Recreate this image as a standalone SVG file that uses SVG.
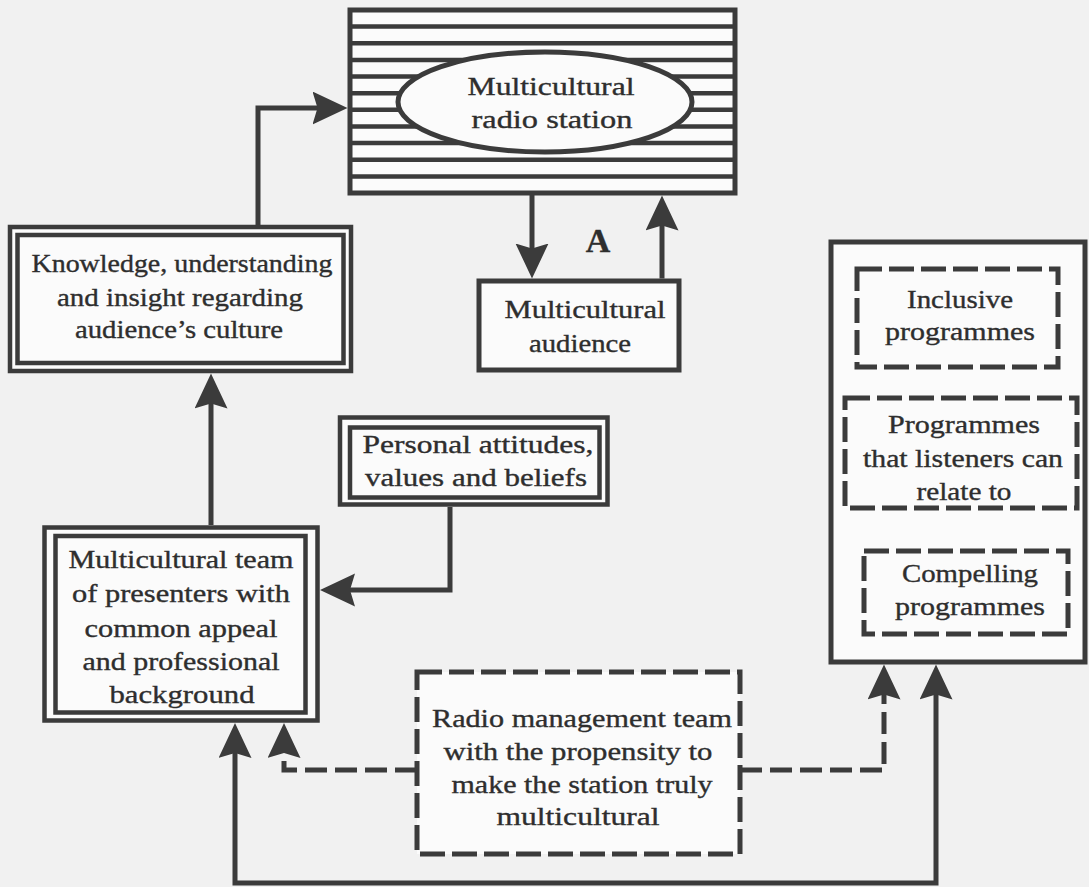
<svg xmlns="http://www.w3.org/2000/svg" width="1089" height="887" viewBox="0 0 1089 887">
<style>
.box{fill:#fbfbfb;stroke:#3b3b3b;stroke-width:5}
.dbl{fill:#fbfbfb;stroke:#3b3b3b;stroke-width:4.5}
.dash{fill:#fbfbfb;stroke:#3b3b3b;stroke-width:5;stroke-dasharray:25 7}
.stripe{stroke:#3b3b3b;stroke-width:4.5}
.ln{fill:none;stroke:#3b3b3b;stroke-width:5}
.dl{fill:none;stroke:#3b3b3b;stroke-width:5;stroke-dasharray:22 8}
text{font-family:"Liberation Serif","Times New Roman",serif;font-size:25px;fill:#2e2e2e;stroke:#2e2e2e;stroke-width:0.35;text-anchor:middle}
</style>
<defs>
<marker id="ah" markerUnits="userSpaceOnUse" viewBox="0 0 36 34" markerWidth="36" markerHeight="34" refX="20" refY="16.5" orient="auto-start-reverse">
<path d="M0,0 L35,16.5 L0,33 L5,16.5 Z" fill="#3b3b3b"/>
</marker>
</defs>
<rect width="1089" height="887" fill="#f1f1f1"/>

<g id="station">
<rect class="box" x="350" y="10" width="385" height="183"/>
<g class="stripe">
<line x1="350" y1="26.6" x2="735" y2="26.6"/>
<line x1="350" y1="43.3" x2="735" y2="43.3"/>
<line x1="350" y1="59.9" x2="735" y2="59.9"/>
<line x1="350" y1="76.6" x2="735" y2="76.6"/>
<line x1="350" y1="93.2" x2="735" y2="93.2"/>
<line x1="350" y1="109.8" x2="735" y2="109.8"/>
<line x1="350" y1="126.5" x2="735" y2="126.5"/>
<line x1="350" y1="143.1" x2="735" y2="143.1"/>
<line x1="350" y1="159.8" x2="735" y2="159.8"/>
<line x1="350" y1="176.4" x2="735" y2="176.4"/>
</g>
<ellipse class="box" cx="545" cy="102" rx="147" ry="50"/>
<text x="551" y="95" textLength="167" lengthAdjust="spacingAndGlyphs">Multicultural</text>
<text x="552" y="128" textLength="161" lengthAdjust="spacingAndGlyphs">radio station</text>
</g>

<g id="audience">
<rect class="box" x="479" y="281" width="200" height="89"/>
<text x="585" y="318" textLength="161" lengthAdjust="spacingAndGlyphs">Multicultural</text>
<text x="580" y="352" textLength="102" lengthAdjust="spacingAndGlyphs">audience</text>
</g>

<g id="label-a">
<text x="598" y="252" style="font-size:34px;font-weight:bold">A</text>
</g>

<g id="knowledge">
<rect class="dbl" x="10" y="227" width="341" height="144"/>
<rect class="dbl" x="17.5" y="235" width="326" height="128"/>
<text x="182" y="272" textLength="301" lengthAdjust="spacingAndGlyphs">Knowledge, understanding</text>
<text x="180" y="306" textLength="246" lengthAdjust="spacingAndGlyphs">and insight regarding</text>
<text x="179" y="338" textLength="208" lengthAdjust="spacingAndGlyphs">audience’s culture</text>
</g>

<g id="personal">
<rect class="dbl" x="340" y="417.5" width="267.5" height="87"/>
<rect class="dbl" x="350" y="427.5" width="249.5" height="70"/>
<text x="478" y="453" textLength="231" lengthAdjust="spacingAndGlyphs">Personal attitudes,</text>
<text x="476" y="486" textLength="222" lengthAdjust="spacingAndGlyphs">values and beliefs</text>
</g>

<g id="team">
<rect class="dbl" x="44.5" y="527.5" width="273" height="193"/>
<rect class="dbl" x="55.5" y="536" width="250" height="176.5"/>
<text x="181" y="568" textLength="225" lengthAdjust="spacingAndGlyphs">Multicultural team</text>
<text x="181" y="602" textLength="218" lengthAdjust="spacingAndGlyphs">of presenters with</text>
<text x="181" y="637" textLength="193" lengthAdjust="spacingAndGlyphs">common appeal</text>
<text x="181" y="670" textLength="197" lengthAdjust="spacingAndGlyphs">and professional</text>
<text x="182" y="703" textLength="145" lengthAdjust="spacingAndGlyphs">background</text>
</g>

<g id="management">
<rect class="dash" x="417" y="672" width="323" height="182"/>
<text x="582" y="727" textLength="300" lengthAdjust="spacingAndGlyphs">Radio management team</text>
<text x="578" y="760" textLength="269" lengthAdjust="spacingAndGlyphs">with the propensity to</text>
<text x="582" y="793" textLength="261" lengthAdjust="spacingAndGlyphs">make the station truly</text>
<text x="578" y="825" textLength="163" lengthAdjust="spacingAndGlyphs">multicultural</text>
</g>

<g id="programmes">
<rect class="box" x="831" y="242" width="254" height="420"/>
<g id="inclusive">
<rect class="dash" x="857" y="269" width="201" height="98"/>
<text x="960" y="308" textLength="106" lengthAdjust="spacingAndGlyphs">Inclusive</text>
<text x="960" y="340" textLength="150" lengthAdjust="spacingAndGlyphs">programmes</text>
</g>
<g id="relate">
<rect class="dash" x="845" y="398" width="232" height="110"/>
<text x="964" y="433" textLength="152" lengthAdjust="spacingAndGlyphs">Programmes</text>
<text x="963" y="467" textLength="200" lengthAdjust="spacingAndGlyphs">that listeners can</text>
<text x="964" y="500" textLength="95" lengthAdjust="spacingAndGlyphs">relate to</text>
</g>
<g id="compelling">
<rect class="dash" x="864" y="551" width="204" height="83"/>
<text x="970" y="582" textLength="136" lengthAdjust="spacingAndGlyphs">Compelling</text>
<text x="970" y="615" textLength="150" lengthAdjust="spacingAndGlyphs">programmes</text>
</g>
</g>

<g id="connectors">
<path class="ln" d="M258,227 V108 H332.5" marker-end="url(#ah)"/>
<path class="ln" d="M532,195 V263.5" marker-end="url(#ah)"/>
<path class="ln" d="M662,278.5 V210.5" marker-end="url(#ah)"/>
<path class="ln" d="M211,525 V388.5" marker-end="url(#ah)"/>
<path class="ln" d="M450,507 V590 H335" marker-end="url(#ah)"/>
<path class="ln" d="M235,738 V883 H936 V679.5" marker-start="url(#ah)" marker-end="url(#ah)"/>
<path class="dl" d="M417,770 H284 V738" marker-end="url(#ah)"/>
<path class="dl" d="M740,770 H884 V679.5" marker-end="url(#ah)"/>
</g>
</svg>
